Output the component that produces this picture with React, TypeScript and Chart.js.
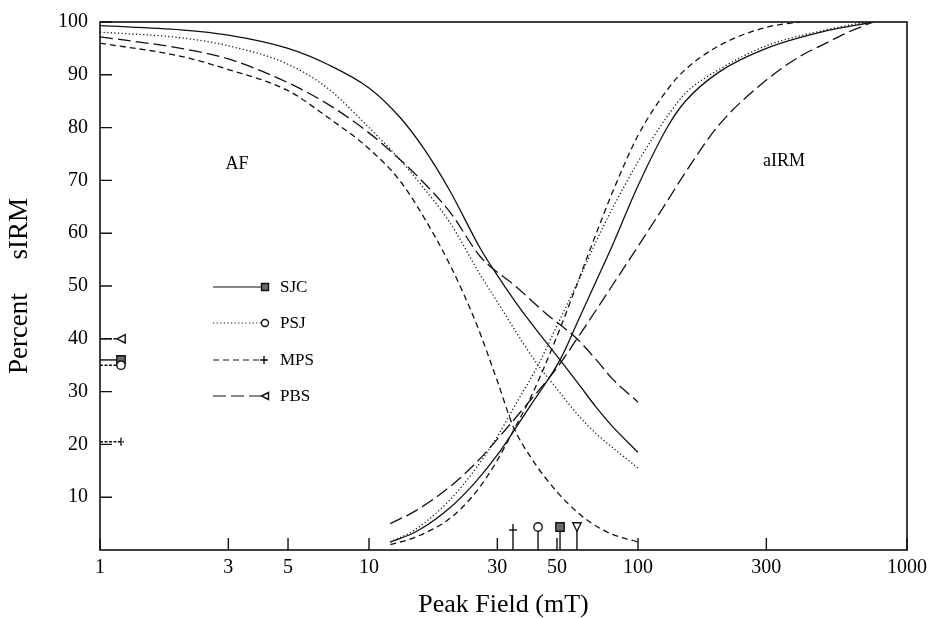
import React, { useEffect, useRef } from 'react';
import { Chart, registerables } from 'chart.js';

Chart.register(...registerables);

const SERIF = "'Liberation Serif', 'Times New Roman', serif";

// ---- series names ----
const seriesNames = ['SJC', 'PSJ', 'MPS', 'PBS'];

// ---- AF demagnetisation curves (field in mT, percent of sIRM) ----
const afFieldSJC = [1, 2, 3, 5, 7, 10, 13, 16, 20, 26, 30, 35, 40, 51.3, 60, 70, 80, 100];
const afPctSJC = [99.3, 98.5, 97.5, 95, 92, 87.5, 82, 76, 68, 57, 52, 47, 43, 36, 31.5, 27, 23.5, 18.5];

const afFieldPSJ = [1, 2, 3, 5, 7, 10, 13, 16, 20, 26, 30, 35, 42.5, 50, 60, 70, 80, 100];
const afPctPSJ = [98.1, 97, 95.5, 92, 87.5, 80, 74, 68.5, 62, 52, 47, 41.5, 35, 30.5, 25.5, 22, 19.5, 15.5];

const afFieldMPS = [1, 2, 3, 5, 7, 10, 13, 16, 20, 25, 30, 34.3, 40, 50, 60, 70, 80, 100];
const afPctMPS = [96, 93.5, 91, 87, 82, 76, 70, 63, 54, 43, 32, 23.5, 17.5, 11, 7, 4.5, 3, 1.5];

const afFieldPBS = [1, 2, 3, 5, 7, 10, 13, 15, 20, 26, 35, 45, 59.3, 70, 80, 100];
const afPctPBS = [97.2, 95, 93, 88.5, 84.5, 79, 74, 71, 64, 55.5, 50, 45, 40, 36, 32.5, 28];

// ---- acquisition IRM curves ----
const irmFieldSJC = [12, 15, 20, 25, 30, 35, 40, 51.3, 60, 70, 80, 100, 130, 150, 200, 300, 500, 750];
const irmPctSJC = [1.5, 3.5, 8, 13, 18, 23, 27.5, 36, 43.5, 51, 57.5, 69, 80.5, 85, 90.5, 95, 98.3, 100];

const irmFieldPSJ = [12, 15, 20, 25, 30, 35, 42.5, 50, 60, 70, 80, 100, 130, 150, 200, 300, 500, 700];
const irmPctPSJ = [1.5, 4, 9.5, 15.5, 21.5, 27.5, 35, 42.5, 51, 58.5, 64.5, 73.5, 82.5, 86.5, 91, 95.5, 98.5, 100];

const irmFieldMPS = [12, 15, 20, 25, 30, 34.3, 40, 50, 60, 70, 80, 100, 130, 150, 200, 300, 400];
const irmPctMPS = [1, 2.5, 6, 11, 17, 22.5, 29, 40.5, 51, 60, 67.5, 78.5, 87.5, 91, 95.5, 99, 100];

const irmFieldPBS = [12, 15, 20, 25, 30, 40, 50, 59.3, 70, 80, 100, 130, 150, 200, 300, 400, 500, 600, 750];
const irmPctPBS = [5, 7.5, 12, 16.5, 21, 28.5, 34.5, 40, 45.5, 50, 57.5, 66.5, 71.5, 80.5, 89, 93.5, 96, 98, 100];

// ---- crossover points (field, percent) ----
const crossField = [51.3, 42.5, 34.3, 59.3];
const crossPct = [36, 35, 20.5, 40];

// ---- tick labels ----
const xTickValues = [1, 3, 5, 10, 30, 50, 100, 300, 1000];
const yTickValues = [10, 20, 30, 40, 50, 60, 70, 80, 90, 100];

// ---- styles ----
const DASHES: number[][] = [[], [1.2, 2.4], [6, 4], [13, 5]];
const MARKERS = ['square', 'circle', 'plus', 'triangle'];
const INK = '#111';

const afFields = [afFieldSJC, afFieldPSJ, afFieldMPS, afFieldPBS];
const afPcts = [afPctSJC, afPctPSJ, afPctMPS, afPctPBS];
const irmFields = [irmFieldSJC, irmFieldPSJ, irmFieldMPS, irmFieldPBS];
const irmPcts = [irmPctSJC, irmPctPSJ, irmPctMPS, irmPctPBS];

function toPoints(xs: number[], ys: number[]) {
  return xs.map((x, i) => ({ x, y: ys[i] }));
}

function drawMarker(ctx: CanvasRenderingContext2D, kind: string, x: number, y: number, r: number, dir: string) {
  ctx.save();
  ctx.setLineDash([]);
  ctx.lineWidth = 1.4;
  ctx.strokeStyle = INK;
  ctx.beginPath();
  if (kind === 'square') {
    ctx.fillStyle = '#6a6a6a';
    ctx.rect(x - r, y - r, 2 * r, 2 * r);
    ctx.fill();
    ctx.stroke();
  } else if (kind === 'circle') {
    ctx.fillStyle = '#fff';
    ctx.arc(x, y, r, 0, Math.PI * 2);
    ctx.fill();
    ctx.stroke();
  } else if (kind === 'plus') {
    ctx.moveTo(x - r, y);
    ctx.lineTo(x + r, y);
    ctx.moveTo(x, y - r);
    ctx.lineTo(x, y + r);
    ctx.stroke();
  } else {
    ctx.fillStyle = '#fff';
    if (dir === 'down') {
      ctx.moveTo(x - r, y - r);
      ctx.lineTo(x + r, y - r);
      ctx.lineTo(x, y + r);
    } else {
      ctx.moveTo(x - r, y);
      ctx.lineTo(x + r, y - r);
      ctx.lineTo(x + r, y + r);
    }
    ctx.closePath();
    ctx.fill();
    ctx.stroke();
  }
  ctx.restore();
}

const decorPlugin = {
  id: 'decor',
  afterDatasetsDraw(chart: any) {
    const ctx: CanvasRenderingContext2D = chart.ctx;
    const { left, right, top, bottom } = chart.chartArea;
    const xs = chart.scales.x;
    const ys = chart.scales.y;
    ctx.save();

    // frame
    ctx.strokeStyle = INK;
    ctx.lineWidth = 1.6;
    ctx.setLineDash([]);
    ctx.strokeRect(left, top, right - left, bottom - top);

    // inward ticks
    ctx.lineWidth = 1.4;
    ctx.beginPath();
    yTickValues.forEach((v) => {
      const py = ys.getPixelForValue(v);
      ctx.moveTo(left, py);
      ctx.lineTo(left + 12, py);
    });
    xTickValues.forEach((v) => {
      const px = xs.getPixelForValue(v);
      ctx.moveTo(px, bottom);
      ctx.lineTo(px, bottom - 12);
    });
    ctx.stroke();

    // crossover markers on the axes
    seriesNames.forEach((_, i) => {
      const kind = MARKERS[i];
      // bottom stems
      const px = xs.getPixelForValue(crossField[i]);
      ctx.lineWidth = 1.4;
      ctx.setLineDash([]);
      ctx.beginPath();
      ctx.moveTo(px, bottom);
      ctx.lineTo(px, kind === 'plus' ? bottom - 26 : bottom - 19);
      ctx.stroke();
      if (kind === 'plus') {
        ctx.beginPath();
        ctx.moveTo(px - 4, bottom - 20);
        ctx.lineTo(px + 4, bottom - 20);
        ctx.stroke();
      } else {
        drawMarker(ctx, kind, px, bottom - 23, 4.2, 'down');
      }
      // left stubs
      const py = ys.getPixelForValue(crossPct[i]);
      ctx.lineWidth = 1.4;
      ctx.setLineDash(DASHES[i].length ? [3, 1.5] : []);
      ctx.beginPath();
      ctx.moveTo(left, py);
      ctx.lineTo(left + (kind === 'plus' ? 24 : 17), py);
      ctx.stroke();
      if (kind === 'plus') {
        ctx.setLineDash([]);
        ctx.beginPath();
        ctx.moveTo(left + 21, py - 4);
        ctx.lineTo(left + 21, py + 4);
        ctx.stroke();
      } else {
        drawMarker(ctx, kind, left + 21, py, 4.2, 'left');
      }
    });

    // legend
    const legendY = [287, 323, 360, 396];
    ctx.font = `17px ${SERIF}`;
    ctx.fillStyle = '#000';
    ctx.textBaseline = 'middle';
    ctx.textAlign = 'left';
    seriesNames.forEach((name, i) => {
      const y = legendY[i];
      ctx.lineWidth = 1.2;
      ctx.setLineDash(DASHES[i]);
      ctx.beginPath();
      ctx.moveTo(213, y);
      ctx.lineTo(MARKERS[i] === 'plus' ? 266 : 261, y);
      ctx.stroke();
      ctx.setLineDash([]);
      if (MARKERS[i] === 'plus') {
        drawMarker(ctx, 'plus', 264, y, 4, 'left');
      } else {
        drawMarker(ctx, MARKERS[i], 265, y, 3.5, 'left');
      }
      ctx.fillText(name, 280, y + 1);
    });

    // region labels
    ctx.font = `18px ${SERIF}`;
    ctx.textAlign = 'center';
    ctx.fillText('AF', 237, 164);
    ctx.fillText('aIRM', 784, 161);

    ctx.restore();
  },
};

export default function App() {
  const ref = useRef<HTMLCanvasElement | null>(null);

  useEffect(() => {
    if (!ref.current) return;
    const datasets: any[] = [];
    seriesNames.forEach((name, i) => {
      const common = {
        borderColor: INK,
        backgroundColor: INK,
        borderWidth: 1.3,
        borderDash: DASHES[i],
        pointRadius: 0,
        fill: false,
        cubicInterpolationMode: 'monotone',
      };
      datasets.push({ label: name + ' AF', data: toPoints(afFields[i], afPcts[i]), ...common });
      datasets.push({ label: name + ' aIRM', data: toPoints(irmFields[i], irmPcts[i]), ...common });
    });

    const chart = new Chart(ref.current, {
      type: 'line',
      data: { datasets },
      options: {
        responsive: false,
        animation: false,
        events: [],
        layout: { padding: { top: 22, right: 22, left: 0, bottom: 0 } },
        plugins: { legend: { display: false }, tooltip: { enabled: false } },
        scales: {
          x: {
            type: 'logarithmic',
            min: 1,
            max: 1000,
            afterBuildTicks: (s: any) => {
              s.ticks = xTickValues.map((v) => ({ value: v }));
            },
            afterFit: (s: any) => {
              s.height = 68;
              s.paddingLeft = 0;
              s.paddingRight = 0;
              s.paddingTop = 0;
              s.paddingBottom = 0;
            },
            grid: { display: false, drawTicks: false },
            border: { display: false },
            ticks: {
              autoSkip: false,
              maxRotation: 0,
              minRotation: 0,
              padding: 6,
              color: '#000',
              font: { family: SERIF, size: 20 },
              callback: (v: any) => String(v),
            },
            title: {
              display: true,
              text: 'Peak Field (mT)',
              color: '#000',
              font: { family: SERIF, size: 26, lineHeight: 1 },
              padding: 0,
            },
          },
          y: {
            type: 'linear',
            min: 0,
            max: 100,
            afterBuildTicks: (s: any) => {
              s.ticks = yTickValues.map((v) => ({ value: v }));
            },
            afterFit: (s: any) => {
              s.width = 100;
              s.paddingLeft = 0;
              s.paddingRight = 0;
              s.paddingTop = 0;
              s.paddingBottom = 0;
            },
            grid: { display: false, drawTicks: false },
            border: { display: false },
            ticks: {
              autoSkip: false,
              padding: 12,
              color: '#000',
              font: { family: SERIF, size: 20 },
              callback: (v: any) => String(v),
            },
            title: {
              display: true,
              text: 'Percent     sIRM',
              color: '#000',
              font: { family: SERIF, size: 27, lineHeight: 1 },
              padding: { top: 6, bottom: 0 },
            },
          },
        },
      } as any,
      plugins: [decorPlugin],
    });
    return () => chart.destroy();
  }, []);

  return (
    <div style={{ position: 'fixed', left: 0, top: 0, width: 929, height: 618, background: '#fff' }}>
      <canvas ref={ref} width={929} height={618} style={{ display: 'block' }} />
    </div>
  );
}
